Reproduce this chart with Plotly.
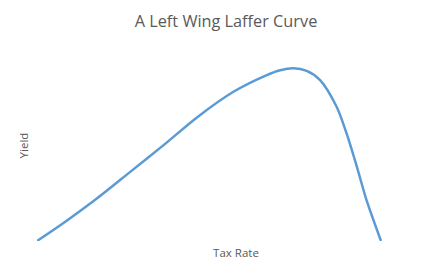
import plotly.graph_objects as go

tax_rate = [0, 7.7, 17.4, 27.1, 36.8, 46.5, 57.1, 66.8, 70.7, 74.5, 78.4, 82.3, 87.1, 90.0, 93.0, 95.8, 100]
yield_vals = [0, 18, 42.4, 69, 95.7, 123.4, 149, 165.7, 170.5, 172.4, 169.9, 160.7, 134, 107.4, 74, 40.7, 0]

fig = go.Figure()
fig.add_trace(go.Scatter(
    x=tax_rate, y=yield_vals, mode="lines",
    line=dict(color="#5B9BD5", width=2.5, shape="spline", smoothing=0.8),
    cliponaxis=False, showlegend=False, hoverinfo="skip"))

font = "Open Sans, Liberation Sans, sans-serif"
fig.update_layout(
    width=435, height=271,
    margin=dict(l=37, r=0, t=50, b=30),
    paper_bgcolor="white", plot_bgcolor="white",
    title=dict(text="A Left Wing Laffer Curve", x=226/435, xanchor="center",
               y=1 - 21/271, yanchor="middle",
               font=dict(family=font, size=16.3, color="#595959")),
    xaxis=dict(range=[0, 115.7], showgrid=False, zeroline=False, showline=False,
               showticklabels=False, ticks="",
               title=dict(text="Tax Rate", standoff=7,
                          font=dict(family=font, size=11.5, color="#595959"))),
    yaxis=dict(range=[0, 190.7], showgrid=False, zeroline=False, showline=False,
               showticklabels=False, ticks="",
               title=dict(text="Yield", standoff=4,
                          font=dict(family=font, size=11.5, color="#595959"))),
)
fig.write_html("out.html")
